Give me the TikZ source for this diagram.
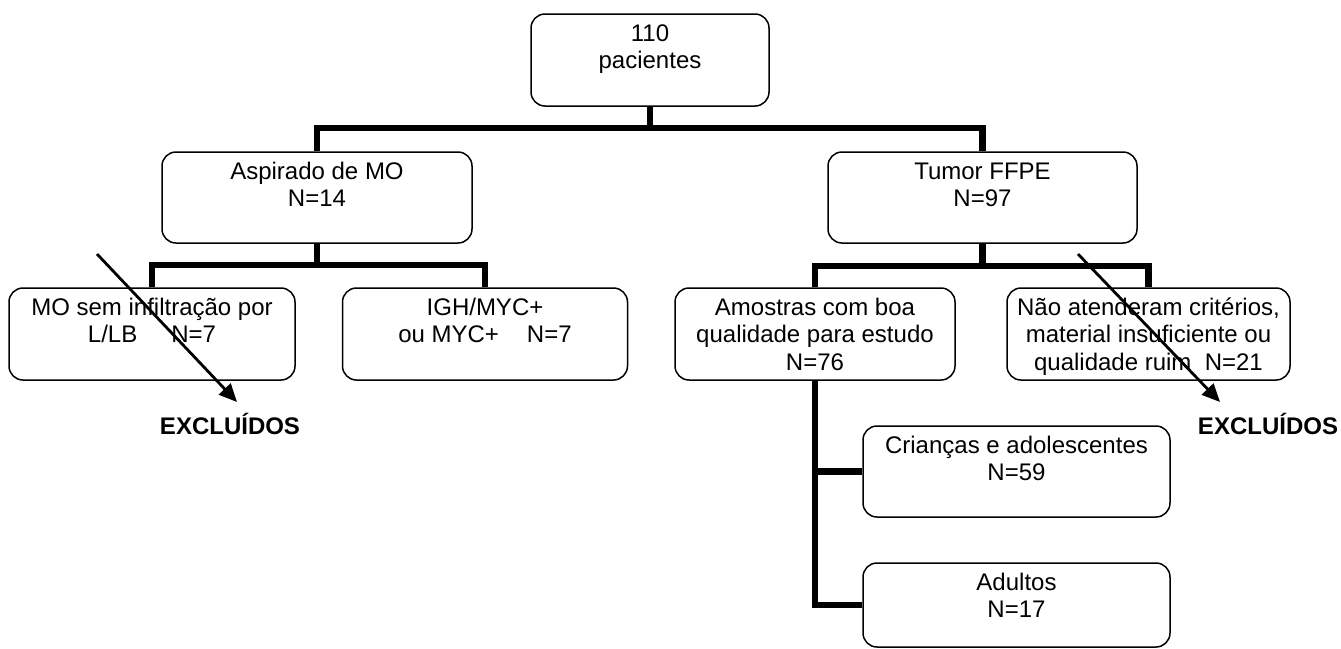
\documentclass[tikz,border=0pt]{standalone}
\usepackage{fontspec}
\setmainfont{Liberation Sans}
\usetikzlibrary{arrows.meta}
\newcommand{\bxt}[3]{\parbox[c][#2][t]{#1}{\centering\rule{0pt}{13.5pt}#3\par}}
\begin{document}
\begin{tikzpicture}[x=0.5pt,y=-0.5pt,
  box/.style={draw, rounded corners=7pt, line width=0.75pt, inner sep=0pt, font=\fontsize{12}{13.8}\selectfont},
  conn/.style={line width=3.2pt},
  exarrow/.style={line width=1.4pt, -{Triangle[length=9pt,width=8pt]}},
  extext/.style={font=\fontsize{12}{14}\selectfont\bfseries, inner sep=0pt, anchor=base}]
\fill[white] (0,0) rectangle (1341,649);
\useasboundingbox (0,0) rectangle (1341,649);

\node[box] (top) at (650,60) {\bxt{119pt}{46pt}{110\\pacientes}};
\node[box] (asp) at (317,197.5) {\bxt{155pt}{45.5pt}{Aspirado de MO\\N=14}};
\node[box] (tum) at (982.5,197.5) {\bxt{154.5pt}{45.5pt}{Tumor FFPE\\N=97}};
\node[box] (mo) at (152,334) {\bxt{143pt}{46pt}{MO sem infiltração por\\L/LB\hspace{17pt}N=7}};
\node[box] (igh) at (485,334) {\bxt{142.5pt}{46pt}{IGH/MYC+\\ou MYC+\hspace{14pt}N=7}};
\node[box] (amo) at (815,334) {\bxt{140pt}{46pt}{Amostras com boa\\qualidade para estudo\\N=76}};
\node[box] (nao) at (1148.5,334) {\bxt{141.5pt}{46pt}{Não atenderam critérios,\\material insuficiente ou\\qualidade ruim\ \ N=21}};
\node[box] (cri) at (1016.5,471.5) {\bxt{153.5pt}{45.5pt}{Crianças e adolescentes\\N=59}};
\node[box] (adu) at (1016.5,605) {\bxt{153.5pt}{42pt}{Adultos\\N=17}};

\node[extext] (ex1) at (230,434) {EXCLUÍDOS};
\node[extext] (ex2) at (1268,434) {EXCLUÍDOS};

% tree connectors
\coordinate (j1) at (650,128);
\draw[conn] (top.south) -- (j1);
\draw[conn] (asp.north) |- (j1) -| (tum.north);

\coordinate (j2) at (317,265);
\draw[conn] (asp.south) -- (j2);
\draw[conn] (mo.north) |- (j2) -| (igh.north);

\coordinate (j3) at (982.5,266);
\draw[conn] (tum.south) -- (j3);
\draw[conn] (amo.north) |- (j3) -| (nao.north);

\draw[conn] (amo.south) |- (adu.west);
\draw[conn] (amo.south |- cri.west) -- (cri.west);

% exclusion arrows
\coordinate (a1s) at (97,254);
\coordinate (a1e) at (237,402);
\coordinate (a2s) at (1078,254);
\coordinate (a2e) at (1220,402);
\draw[exarrow] (a1s) -- (a1e);
\draw[exarrow] (a2s) -- (a2e);
\end{tikzpicture}
\end{document}
